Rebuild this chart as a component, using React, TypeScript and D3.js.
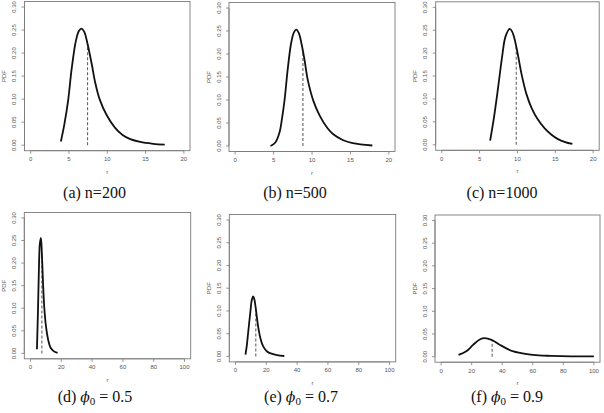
import React from "react";
import * as d3 from "d3";

// density curves, [r, pdf] pairs
const curveA: [number, number][] = [
  [3.95, 0.008], [4.4, 0.045], [4.9, 0.098], [5.35, 0.165], [5.9, 0.226], [6.3, 0.248],
  [6.65, 0.253], [7.0, 0.246], [7.4, 0.222], [8.0, 0.174], [8.4, 0.138], [9.0, 0.1],
  [9.9, 0.066], [11.0, 0.038], [12.0, 0.022], [13.0, 0.013], [14.3, 0.007], [16.0, 0.003], [17.5, 0.001],
];
const curveB: [number, number][] = [
  [4.6, 0.0], [5.2, 0.007], [5.78, 0.03], [6.1, 0.06], [6.43, 0.1], [6.86, 0.17], [7.3, 0.225],
  [7.65, 0.247], [7.95, 0.253], [8.3, 0.245], [8.6, 0.225], [9.0, 0.19], [9.47, 0.142], [10.2, 0.097],
  [11.0, 0.066], [12.0, 0.039], [12.73, 0.026], [14.0, 0.013], [15.3, 0.006], [17.85, 0.001],
];
const curveC: [number, number][] = [
  [6.39, 0.009], [6.9, 0.06], [7.46, 0.127], [7.98, 0.193], [8.42, 0.236], [8.98, 0.253],
  [9.3, 0.247], [9.62, 0.231], [10.1, 0.193], [10.57, 0.152], [11.2, 0.11], [11.87, 0.08],
  [12.7, 0.055], [13.6, 0.036], [14.5, 0.022], [15.3, 0.013], [16.3, 0.006], [17.26, 0.002],
];
const curveD: [number, number][] = [
  [4.2, 0.009], [4.9, 0.098], [5.5, 0.19], [6.1, 0.243], [6.8, 0.256], [7.4, 0.222],
  [8.2, 0.152], [9.0, 0.1], [10.0, 0.062], [11.5, 0.03], [13.0, 0.013], [15.0, 0.005], [17.6, 0.001],
];
const curveE: [number, number][] = [
  [6.5, 0.004], [7.4, 0.025], [8.2, 0.051], [9.8, 0.102], [10.6, 0.124], [11.5, 0.132],
  [12.3, 0.125], [13.0, 0.11], [14.8, 0.064], [16.2, 0.04], [18.0, 0.022], [20.5, 0.011],
  [23.5, 0.006], [27.0, 0.003], [31.7, 0.001],
];
const curveF: [number, number][] = [
  [11.4, 0.004], [16.5, 0.012], [20.9, 0.026], [25.3, 0.038], [28.6, 0.041], [33.0, 0.037],
  [38.6, 0.026], [43.0, 0.018], [47.3, 0.012], [56.2, 0.006], [64.0, 0.003], [71.6, 0.002],
  [85.0, 0.001], [100.0, 0.001],
];

// r value where the dashed reference line is drawn
const markerR = [7.43, 8.82, 9.84, 7.4, 13.2, 33.4];

const xTicksN = [0, 5, 10, 15, 20];
const xTicksPhi = [0, 20, 40, 60, 80, 100];
const yTicks = [0, 0.05, 0.1, 0.15, 0.2, 0.25, 0.3];

const captionN = ["(a) n=200", "(b) n=500", "(c) n=1000"];
const phiValues = ["0.5", "0.7", "0.9"];

type Panel = {
  curve: [number, number][];
  marker: number;
  xMax: number;
  xTicks: number[];
  left: number;
  top: number;
  width: number;
  height: number;
  capX: number;
  capY: number;
  caption: React.ReactNode;
};

const phiCaption = (tag: string, v: string) => (
  <>
    {tag + " "}
    <tspan fontStyle="italic" fontFamily="'DejaVu Serif', serif" fontSize={14}>ϕ</tspan>
    <tspan fontSize={11} dy={3}>0</tspan>
    <tspan dy={-3}>{" = " + v}</tspan>
  </>
);

const panels: Panel[] = [
  { curve: curveA, marker: markerR[0], xMax: 20, xTicks: xTicksN, left: 24.5, top: 1.5, width: 165.5, height: 149.2, capX: 94.5, capY: 198, caption: captionN[0] },
  { curve: curveB, marker: markerR[1], xMax: 20, xTicks: xTicksN, left: 229, top: 2.5, width: 166, height: 149, capX: 295, capY: 198, caption: captionN[1] },
  { curve: curveC, marker: markerR[2], xMax: 20, xTicks: xTicksN, left: 435.7, top: 1.8, width: 163.5, height: 148.5, capX: 502, capY: 198, caption: captionN[2] },
  { curve: curveD, marker: markerR[3], xMax: 100, xTicks: xTicksPhi, left: 24.3, top: 212.5, width: 166.4, height: 146.3, capX: 95, capY: 402, caption: phiCaption("(d)", phiValues[0]) },
  { curve: curveE, marker: markerR[4], xMax: 100, xTicks: xTicksPhi, left: 229.3, top: 214.5, width: 166.4, height: 147.4, capX: 301, capY: 402, caption: phiCaption("(e)", phiValues[1]) },
  { curve: curveF, marker: markerR[5], xMax: 100, xTicks: xTicksPhi, left: 435, top: 215, width: 165, height: 147.2, capX: 507, capY: 402, caption: phiCaption("(f)", phiValues[2]) },
];

const AXIS = "#7a7a7a";
const LABEL = "#555";
const TICK_FONT = "'Liberation Sans', Arial, sans-serif";

function interp(curve: [number, number][], r: number) {
  const xs = curve.map((d) => d[0]);
  const i = Math.max(1, Math.min(curve.length - 1, d3.bisectLeft(xs, r)));
  const [x0, y0] = curve[i - 1];
  const [x1, y1] = curve[i];
  return y0 + ((r - x0) / (x1 - x0)) * (y1 - y0);
}

function DensityPanel({ p }: { p: Panel }) {
  // R-style 4% padding around the data range
  const xPad = p.xMax * 0.04;
  const x = d3.scaleLinear().domain([-xPad, p.xMax + xPad]).range([p.left, p.left + p.width]);
  const y = d3.scaleLinear().domain([-0.012, 0.312]).range([p.top + p.height, p.top]);
  const line = d3
    .line<[number, number]>()
    .x((d) => x(d[0]))
    .y((d) => y(d[1]))
    .curve(d3.curveCatmullRom.alpha(0.5));
  const bottom = p.top + p.height;
  const midX = p.left + p.width / 2;
  const midY = p.top + p.height / 2;
  const markTop = interp(p.curve, p.marker);

  return (
    <g>
      <rect x={p.left} y={p.top} width={p.width} height={p.height} fill="none" stroke={AXIS} strokeWidth={0.9} />
      {/* x axis */}
      <line x1={x(p.xTicks[0])} x2={x(p.xTicks[p.xTicks.length - 1])} y1={bottom} y2={bottom} stroke={AXIS} strokeWidth={0.8} />
      {p.xTicks.map((t) => (
        <g key={"x" + t}>
          <line x1={x(t)} x2={x(t)} y1={bottom} y2={bottom + 3} stroke={AXIS} strokeWidth={0.8} />
          <text x={x(t)} y={bottom + 10.5} fontSize={6} fill={LABEL} textAnchor="middle" fontFamily={TICK_FONT}>
            {t}
          </text>
        </g>
      ))}
      {/* y axis */}
      <line x1={p.left} x2={p.left} y1={y(0)} y2={y(0.3)} stroke={AXIS} strokeWidth={0.8} />
      {yTicks.map((t) => (
        <g key={"y" + t}>
          <line x1={p.left} x2={p.left - 3} y1={y(t)} y2={y(t)} stroke={AXIS} strokeWidth={0.8} />
          <text
            transform={`translate(${p.left - 8.5},${y(t)}) rotate(-90)`}
            fontSize={6}
            fill={LABEL}
            textAnchor="middle"
            fontFamily={TICK_FONT}
          >
            {t.toFixed(2)}
          </text>
        </g>
      ))}
      <text transform={`translate(${p.left - 18.5},${midY}) rotate(-90)`} fontSize={6} fill={LABEL} textAnchor="middle" fontFamily={TICK_FONT}>
        PDF
      </text>
      <text x={midX} y={bottom + 23} fontSize={6} fill={LABEL} textAnchor="middle" fontFamily={TICK_FONT}>
        r
      </text>
      {/* density and its reference line */}
      <line x1={x(p.marker)} x2={x(p.marker)} y1={y(0)} y2={y(markTop)} stroke="#666" strokeWidth={1.1} strokeDasharray="3,2" />
      <path d={line(p.curve) ?? ""} fill="none" stroke="#111" strokeWidth={1.8} strokeLinejoin="round" />
      <text x={p.capX} y={p.capY} fontSize={16} fontFamily="'Liberation Serif', 'Times New Roman', serif" textAnchor="middle" fill="#111">
        {p.caption}
      </text>
    </g>
  );
}

export default function App() {
  return (
    <svg width={604} height={413} style={{ position: "absolute", left: 0, top: 0, background: "#fff" }}>
      {panels.map((p, i) => (
        <DensityPanel key={i} p={p} />
      ))}
    </svg>
  );
}
